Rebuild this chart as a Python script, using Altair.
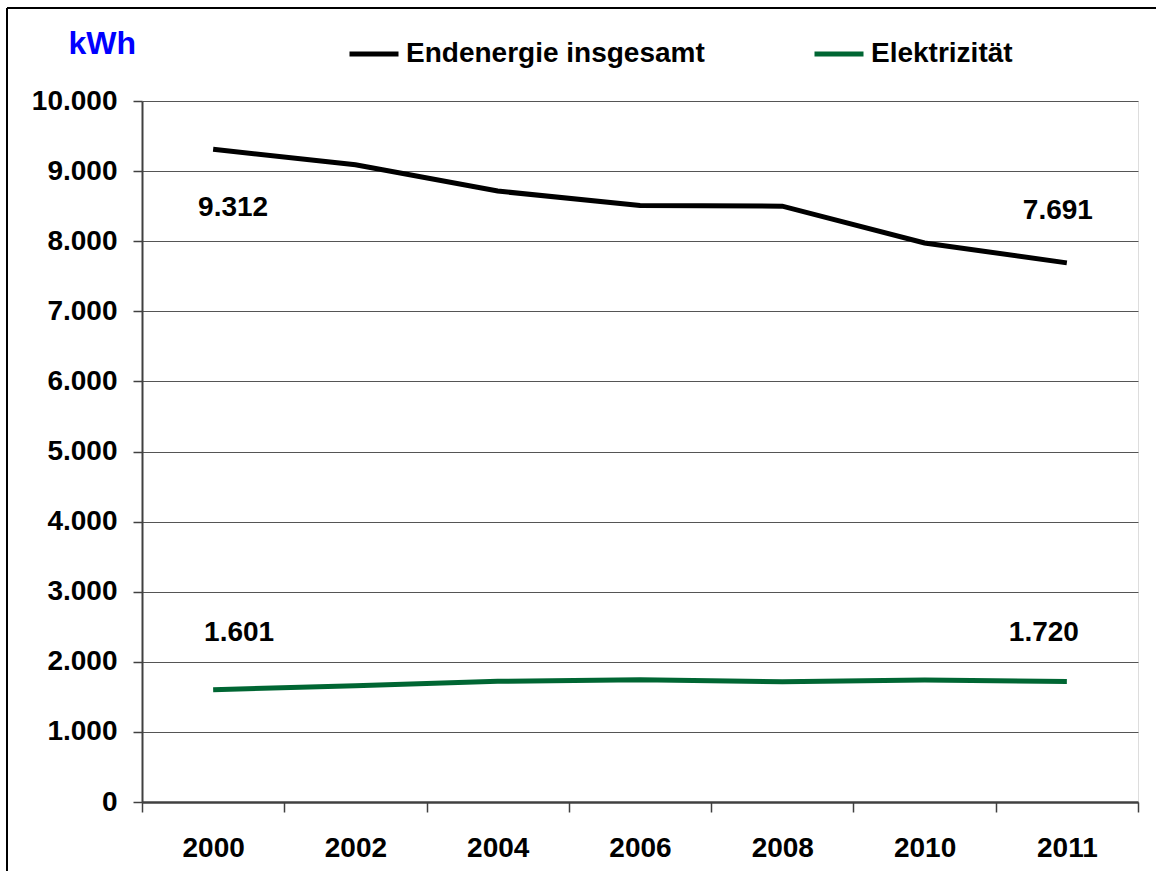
import altair as alt
import pandas as pd

# Final energy use per household (kWh)
years = ["2000", "2002", "2004", "2006", "2008", "2010", "2011"]
endenergie = [9312, 9090, 8715, 8510, 8500, 7975, 7691]
elektrizitaet = [1601, 1659, 1722, 1745, 1716, 1740, 1720]
series_names = ["Endenergie insgesamt", "Elektrizität"]
series_colors = ["#000000", "#006633"]
y_ticks = list(range(0, 10001, 1000))

rows = []
for name, values in zip(series_names, [endenergie, elektrizitaet]):
    for year, v in zip(years, values):
        rows.append({"Jahr": year, "Reihe": name, "kWh": v})
df = pd.DataFrame(rows)

FONT = "Liberation Sans"
# German thousands separator: 10,000 -> 10.000
de_axis = "replace(format(datum.value, ','), ',', '.')"

x_enc = alt.X(
    "Jahr:N",
    sort=years,
    bandPosition=0.5,
    scale=alt.Scale(type="band", paddingInner=0, paddingOuter=0),
    axis=alt.Axis(
        title=None, labelAngle=0, tickBand="extent", tickSize=10,
        labelPadding=22, labelFontSize=28, labelFontWeight="bold",
        labelFont=FONT, labelColor="black", domainColor="#404040",
        domainWidth=2.5, tickColor="#404040", tickWidth=1.5, grid=False,
    ),
)
y_enc = alt.Y(
    "kWh:Q",
    scale=alt.Scale(domain=[0, 10000], nice=False),
    axis=alt.Axis(
        values=y_ticks, labelExpr=de_axis, title="kWh", titleAngle=0,
        titleX=-74, titleY=-48, titleAlign="left", titleBaseline="alphabetic",
        titleFontSize=32, titleColor="#0000ff", titleFontWeight="bold",
        titleFont=FONT, tickSize=9, labelPadding=16, labelFontSize=28,
        labelFontWeight="bold", labelFont=FONT, labelColor="black",
        labelFlush=False, labelOverlap=False, domainColor="#404040",
        domainWidth=2, tickColor="#404040", tickWidth=1.5,
        gridColor="#555555", gridWidth=1.2,
    ),
)

base = alt.Chart(df)

lines = base.mark_line(strokeWidth=5).encode(
    x=x_enc,
    y=y_enc,
    color=alt.Color(
        "Reihe:N",
        scale=alt.Scale(domain=series_names, range=series_colors),
        legend=alt.Legend(
            title=None, orient="none", legendX=205, legendY=-74,
            direction="horizontal", symbolType="stroke", symbolSize=2401,
            symbolStrokeWidth=5, labelFontSize=28, labelFontWeight="bold",
            labelFont=FONT, labelColor="black", labelOffset=5,
            columnPadding=99, padding=0, labelLimit=0,
        ),
    ),
)


def value_label(series, year, dx, dy):
    return (
        base.transform_filter(
            f"datum.Reihe == '{series}' && datum.Jahr == '{year}'"
        )
        .transform_calculate(
            label="replace(format(datum.kWh, ','), ',', '.')"
        )
        .mark_text(
            dx=dx, dy=dy, fontSize=28, fontWeight="bold", font=FONT,
            color="black", baseline="alphabetic", align="center",
        )
        .encode(x=x_enc, y=y_enc, text="label:N")
    )


labels = [
    value_label(series_names[0], years[0], 20, 67),
    value_label(series_names[0], years[-1], -9, -44),
    value_label(series_names[1], years[0], 26, -49),
    value_label(series_names[1], years[-1], -23, -40),
]

# Outer frame (left and top edges)
frame_df = pd.DataFrame({"k": [0]})
frame_left = alt.Chart(frame_df).mark_rule(color="black", strokeWidth=2).encode(
    x=alt.value(-135), y=alt.value(-93), y2=alt.value(800)
)
frame_top = alt.Chart(frame_df).mark_rule(color="black", strokeWidth=2).encode(
    y=alt.value(-93), x=alt.value(-135), x2=alt.value(1100)
)

chart = (
    alt.layer(frame_left, frame_top, lines, *labels)
    .properties(
        width=996,
        height=701,
        autosize=alt.AutoSizeParams(type="none"),
        padding={"left": 142, "top": 101, "right": 18, "bottom": 69},
        background="white",
    )
    .configure_view(stroke="#808080", strokeWidth=2.5)
    .configure(font=FONT)
)

chart.save("out.html", embed_options={"renderer": "svg", "actions": False})
